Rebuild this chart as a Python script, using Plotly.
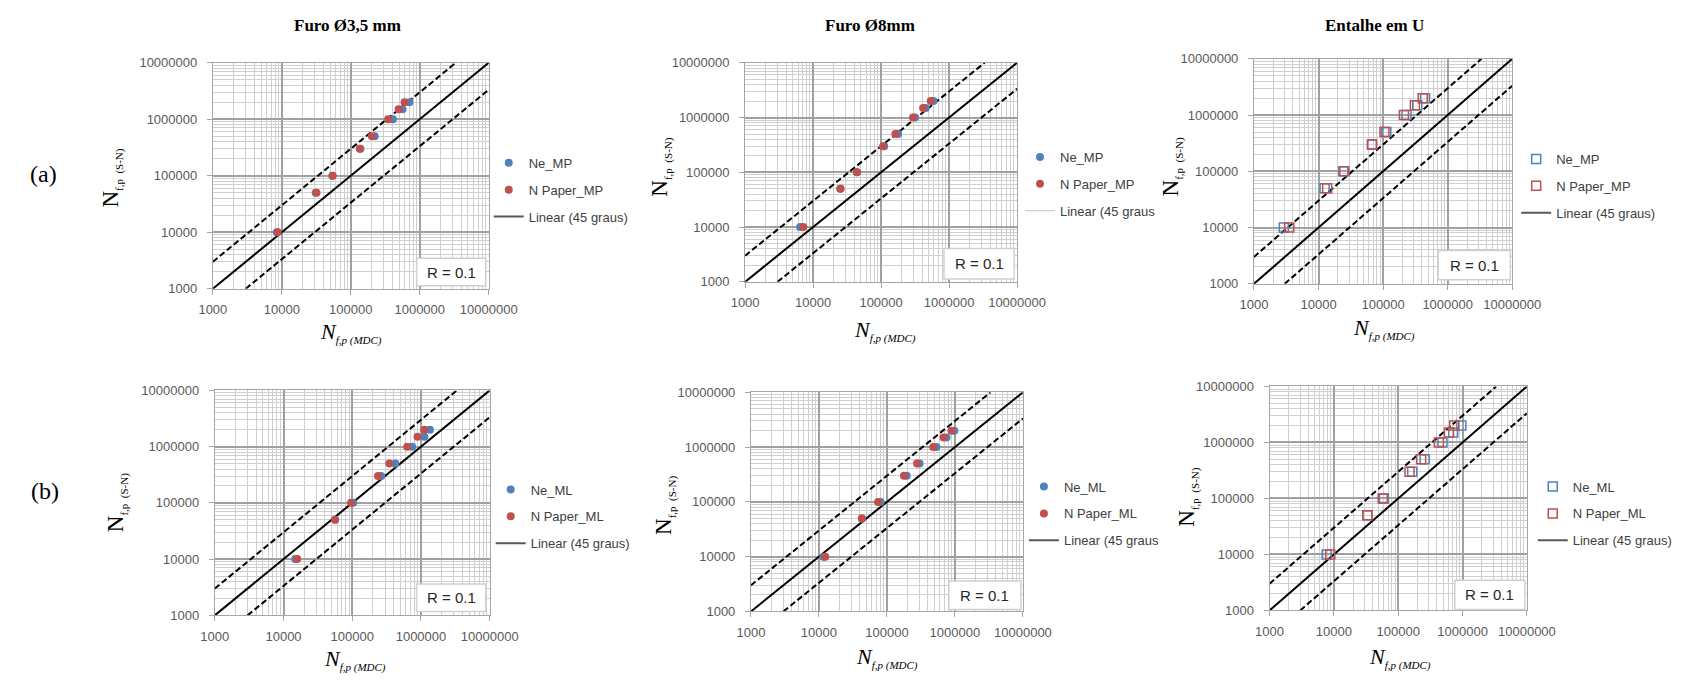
import plotly.graph_objects as go

# ---------------- data ----------------
# S-N predicted life (vertical axis), same levels for every specimen set
nf_sn = [10000, 50000, 100000, 300000, 500000, 1000000, 1500000, 2000000]

# MDC predicted life (horizontal axis), per geometry / method
furo35_ne_mp = [8470, 31000, 54000, 138000, 222000, 408000, 563000, 708000]
furo35_paper_mp = [8700, 31800, 54700, 135000, 202000, 348000, 494000, 603000]

furo8_ne_mp = [6450, 25000, 44000, 111000, 178000, 316000, 455000, 590000]
furo8_paper_mp = [7180, 25400, 44200, 107000, 162000, 295000, 415000, 537000]

entalhe_ne_mp = [2900, 12400, 24200, 67000, 112000, 230000, 338000, 446000]
entalhe_paper_mp = [3520, 13600, 25100, 67600, 105000, 210000, 310000, 410000]

furo35_ne_ml = [14800, 56500, 103000, 263000, 424000, 745000, 1120000, 1350000]
furo35_paper_ml = [15800, 56000, 95900, 237000, 347000, 630000, 890000, 1120000]

furo8_ne_ml = [11600, 43000, 80400, 195000, 302000, 534000, 752000, 980000]
furo8_paper_ml = [12400, 42700, 74000, 178000, 277000, 480000, 680000, 890000]

entalhe_ne_ml = [7730, 33000, 59900, 165000, 257000, 487000, 716000, 958000]
entalhe_paper_ml = [8780, 33200, 57500, 150000, 227000, 429000, 615000, 742000]

# 45-degree reference and the factor-3 scatter band
axis_min, axis_max = 1000, 10000000
band_factor = 3

tick_vals = [1000, 10000, 100000, 1000000, 10000000]
tick_text = ["1000", "10000", "100000", "1000000", "10000000"]

col_titles = ["Furo Ø3,5 mm", "Furo Ø8mm", "Entalhe em U"]
row_labels = ["(a)", "(b)"]
r_label = "R = 0.1"

# ---------------- layout helpers ----------------
W, H = 1707, 683


def fx(px):
    return px / W


def fy(py):
    return 1 - py / H


BLUE = "#4f81bd"
RED = "#c0504d"
SANS = "Liberation Sans"
SERIF = "Liberation Serif"

panels = [
    dict(ne=furo35_ne_mp, paper=furo35_paper_mp, names=("Ne_MP", "N Paper_MP"),
         sym="circle", lin="Linear (45 graus)", lincol="#595959", linw=2,
         box=(204, 57, 487, 288), leg=(487, 144), rbox=(413, 257, 484, 285),
         ytitle=(101, 175), xtitle=(346, 333)),
    dict(ne=furo8_ne_mp, paper=furo8_paper_mp, names=("Ne_MP", "N Paper_MP"),
         sym="circle", lin="Linear (45 graus", lincol="#bfbfbf", linw=1,
         box=(750, 57, 1029, 281), leg=(1032, 138), rbox=(954, 247, 1026, 278),
         ytitle=(664, 164), xtitle=(893, 331)),
    dict(ne=entalhe_ne_mp, paper=entalhe_paper_mp, names=("Ne_MP", "N Paper_MP"),
         sym="square-open", lin="Linear (45 graus)", lincol="#595959", linw=2,
         box=(1272, 53, 1537, 283), leg=(1541, 140), rbox=(1461, 249, 1535, 279),
         ytitle=(1188, 164), xtitle=(1405, 329)),
    dict(ne=furo35_ne_ml, paper=furo35_paper_ml, names=("Ne_ML", "N Paper_ML"),
         sym="circle", lin="Linear (45 graus)", lincol="#595959", linw=2,
         box=(206, 392, 488, 622), leg=(489, 478), rbox=(413, 590, 484, 618),
         ytitle=(106, 507), xtitle=(350, 668)),
    dict(ne=furo8_ne_ml, paper=furo8_paper_ml, names=("Ne_ML", "N Paper_ML"),
         sym="circle", lin="Linear (45 graus", lincol="#595959", linw=2,
         box=(756, 394, 1035, 618), leg=(1036, 475), rbox=(959, 587, 1033, 616),
         ytitle=(668, 510), xtitle=(896, 666)),
    dict(ne=entalhe_ne_ml, paper=entalhe_paper_ml, names=("Ne_ML", "N Paper_ML"),
         sym="square-open", lin="Linear (45 graus)", lincol="#595959", linw=2,
         box=(1288, 388, 1552, 617), leg=(1558, 475), rbox=(1478, 586, 1550, 616),
         ytitle=(1204, 501), xtitle=(1422, 666)),
]

minor_vals = [m * 10 ** e for e in range(3, 7) for m in range(2, 10)]

fig = go.Figure()
layout = dict(
    width=W, height=H, margin=dict(l=0, r=0, t=0, b=0),
    paper_bgcolor="white", plot_bgcolor="white",
    showlegend=True, annotations=[], shapes=[],
)


def axis_style(domain, anchor, is_y):
    return dict(
        type="log", range=[3, 7], domain=domain, anchor=anchor,
        tickmode="array", tickvals=tick_vals, ticktext=tick_text,
        tickfont=dict(family=SANS, size=13, color="#595959"),
        ticks="outside", ticklen=5, tickcolor="#a6a6a6", tickwidth=1,
        ticklabelstandoff=7 if is_y else 4,
        showgrid=True, gridcolor="#a0a0a0", gridwidth=1.5,
        minor=dict(tickmode="array", tickvals=minor_vals, showgrid=True,
                   gridcolor="#cfcfcf", gridwidth=1),
        showline=True, linecolor="#a6a6a6", linewidth=1, mirror=True,
        zeroline=False, fixedrange=True,
    )


for i, p in enumerate(panels):
    n = i + 1
    xa = "x" if n == 1 else f"x{n}"
    ya = "y" if n == 1 else f"y{n}"
    leg = "legend" if n == 1 else f"legend{n}"
    x0, y0, x1, y1 = p["box"]
    layout["xaxis" if n == 1 else f"xaxis{n}"] = axis_style([fx(x0), fx(x1)], ya, False)
    layout["yaxis" if n == 1 else f"yaxis{n}"] = axis_style([fy(y1), fy(y0)], xa, True)

    # scatter band and 45-degree line
    fig.add_trace(go.Scatter(
        x=[axis_min, axis_max / band_factor], y=[axis_min * band_factor, axis_max],
        mode="lines", line=dict(color="black", width=2, dash="6px,3px"),
        xaxis=xa, yaxis=ya, showlegend=False, hoverinfo="skip"))
    fig.add_trace(go.Scatter(
        x=[axis_min * band_factor, axis_max], y=[axis_min, axis_max / band_factor],
        mode="lines", line=dict(color="black", width=2, dash="6px,3px"),
        xaxis=xa, yaxis=ya, showlegend=False, hoverinfo="skip"))
    fig.add_trace(go.Scatter(
        x=[axis_min, axis_max], y=[axis_min, axis_max],
        mode="lines", line=dict(color="black", width=2),
        xaxis=xa, yaxis=ya, showlegend=False, hoverinfo="skip"))

    if p["sym"] == "circle":
        mk_b = dict(symbol="circle", size=8, color=BLUE)
        mk_r = dict(symbol="circle", size=8, color=RED)
    else:
        mk_b = dict(symbol="square-open", size=9, color=BLUE, line=dict(width=1.5, color=BLUE))
        mk_r = dict(symbol="square-open", size=9, color=RED, line=dict(width=1.5, color=RED))

    fig.add_trace(go.Scatter(
        x=p["ne"], y=nf_sn, mode="markers", marker=mk_b, name=p["names"][0],
        xaxis=xa, yaxis=ya, legend=leg, legendgroup=f"a{n}"))
    fig.add_trace(go.Scatter(
        x=p["paper"], y=nf_sn, mode="markers", marker=mk_r, name=p["names"][1],
        xaxis=xa, yaxis=ya, legend=leg, legendgroup=f"b{n}"))
    # legend entry for the 45-degree trendline
    fig.add_trace(go.Scatter(
        x=[None], y=[None], mode="lines", name=p["lin"],
        line=dict(color=p["lincol"], width=p["linw"]),
        xaxis=xa, yaxis=ya, legend=leg, legendgroup=f"c{n}"))

    lx, ly = p["leg"]
    layout[leg] = dict(
        x=fx(lx), y=fy(ly), xanchor="left", yanchor="top",
        font=dict(family=SANS, size=13, color="#404040"),
        bgcolor="rgba(0,0,0,0)", borderwidth=0, tracegroupgap=7,
        itemclick=False, itemdoubleclick=False,
    )

    # R label box
    rx0, ry0, rx1, ry1 = p["rbox"]
    layout["shapes"].append(dict(
        type="rect", xref="paper", yref="paper",
        x0=fx(rx0), x1=fx(rx1), y0=fy(ry1), y1=fy(ry0),
        fillcolor="white", line=dict(color="#d0d0d0", width=1.5), layer="above"))
    layout["annotations"].append(dict(
        x=fx((rx0 + rx1) / 2), y=fy((ry0 + ry1) / 2), xref="paper", yref="paper",
        text=r_label, showarrow=False, xanchor="center", yanchor="middle",
        font=dict(family=SANS, size=15, color="#262626")))

    # axis titles
    tx, ty = p["ytitle"]
    layout["annotations"].append(dict(
        x=fx(tx), y=fy(ty), xref="paper", yref="paper", textangle=-90,
        text="N<sub><span style='font-size:11px'>f,p  (S-N)</span></sub>",
        showarrow=False, xanchor="center", yanchor="middle",
        font=dict(family=SERIF, size=23, color="black")))
    tx, ty = p["xtitle"]
    layout["annotations"].append(dict(
        x=fx(tx), y=fy(ty), xref="paper", yref="paper",
        text="<i>N<sub><span style='font-size:11px'>f,p (MDC)</span></sub></i>",
        showarrow=False, xanchor="center", yanchor="middle",
        font=dict(family=SERIF, size=22, color="black")))

# column titles
for cx, t in zip([342, 878, 1396], col_titles):
    layout["annotations"].append(dict(
        x=fx(cx), y=fy(19), xref="paper", yref="paper", text=f"<b>{t}</b>",
        showarrow=False, xanchor="center", yanchor="middle",
        font=dict(family=SERIF, size=17, color="black")))

# row labels
for (rx, ry), t in zip([(30, 171), (32, 495)], row_labels):
    layout["annotations"].append(dict(
        x=fx(rx), y=fy(ry), xref="paper", yref="paper", text=t,
        showarrow=False, xanchor="center", yanchor="middle",
        font=dict(family=SERIF, size=24, color="black")))

fig.update_layout(**layout)
fig.write_html("out.html")
